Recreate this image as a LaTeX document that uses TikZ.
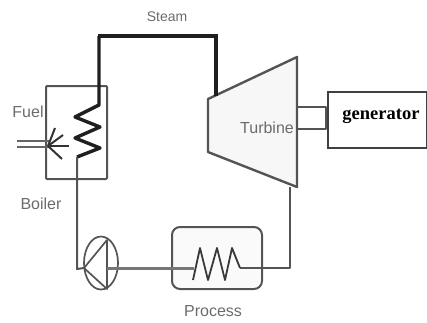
\documentclass[tikz,border=0pt]{standalone}
\usepackage{fontspec}
\setmainfont{Liberation Sans}
\newfontfamily\serifbold[Scale=1]{Liberation Serif}
\usetikzlibrary{shapes.geometric}
\definecolor{lnk}{gray}{0.33}
\definecolor{lbl}{gray}{0.42}
\tikzset{
 x=1pt,y=-1pt,
 thinline/.style={draw=lnk,line width=2pt,line join=round},
 thickline/.style={draw=black!88,line width=4pt,line join=miter},
 coil/.style={draw=black!88,line width=3.4pt,line join=round},
 lab/.style={text=lbl,font=\fontsize{16}{16}\selectfont,inner sep=0pt},
}
\begin{document}
\begin{tikzpicture}
\useasboundingbox (0,0) rectangle (427,322);
% boiler
\node[draw=lnk,line width=2pt,rounded corners=1pt,minimum width=61pt,minimum height=93pt,inner sep=0pt] (boiler) at (76.5,132.5) {};
% turbine
\coordinate (t1) at (208,99); \coordinate (t2) at (297,57);
\coordinate (t3) at (297,187); \coordinate (t4) at (208,152);
\filldraw[fill=black!3,draw=lnk,line width=2.4pt,line join=round] (t1)--(t2)--(t3)--(t4)--cycle;
% steam
\coordinate (c0) at (77,157); \coordinate (c1) at (100,148); \coordinate (c2) at (75,138);
\coordinate (c3) at (100,127); \coordinate (c4) at (75,117); \coordinate (c5) at (99,105);
\coordinate (s1) at (98,36); \coordinate (s2) at (216,36); \coordinate (s3) at (216,96);
\draw[coil] (c0)--(c1)--(c2)--(c3)--(c4)--(c5)--(99,36);
\draw[thickline] (s1)--(s2)--(s3);
% process
\node[draw=lnk,line width=2pt,rounded corners=8pt,fill=black!2,minimum width=90pt,minimum height=62pt,inner sep=0pt] (proc) at (217,258) {};
% pump
\node[ellipse,draw=lnk,line width=1.7pt,minimum width=34pt,minimum height=53pt,inner sep=0pt] (pump) at (101,263) {};
\coordinate (p1) at (84,268); \coordinate (p2) at (107,240); \coordinate (p3) at (107,289);
\draw[draw=lnk,line width=1.7pt,line join=round] (p1)--(p2)--(p3)--cycle;
% return
\coordinate (r0) at (290,187); \coordinate (r1) at (290,268); \coordinate (r2) at (240,268);
\coordinate (z0) at (193,280); \coordinate (z1) at (200,248); \coordinate (z2) at (208,280);
\coordinate (z3) at (217,248); \coordinate (z4) at (225,280); \coordinate (z5) at (232,248);
\coordinate (z6) at (194,268);
\draw[thinline] (r0)--(r1)--(r2);
\draw[draw=black!78,line width=1.8pt,line join=round] (r2)--(z5)--(z4)--(z3)--(z2)--(z1)--(z0);
\draw[draw=lnk!80,line width=3pt] (z6)--(107,268);
\coordinate (l0) at (77,269);
\draw[thinline] (c0)--(l0)--(p1);
% generator
\node[draw=black!75,line width=1.4pt,fill=white,minimum width=99pt,minimum height=56pt,inner sep=0pt] (gen) at (377.5,120) {};
\node[font=\serifbold\bfseries\fontsize{18.5}{18.5}\selectfont,text=black,inner sep=0pt] (gentext) at (381,116) {generator};
\coordinate (g1) at (297,107); \coordinate (g2) at (326,107);
\coordinate (g3) at (297,129); \coordinate (g4) at (326,129);
\draw[thinline] (g1)--(g2)--(g4)--(g3);
% fuel
\coordinate (f1) at (17,141); \coordinate (f2) at (50,141);
\coordinate (f3) at (17,147); \coordinate (f4) at (50,147);
\draw[draw=lnk!90,line width=2.6pt] (f1)--(f2) (f3)--(f4);
\coordinate (b) at (48,146);
\foreach \e in {(55,128),(63,135),(69,146),(62,159)}
  \draw[draw=black!80,line width=2pt] (b)--\e;
% labels
\node[lab,font=\fontsize{14}{14}\selectfont] (steam) at (167,17) {Steam};
\node[lab] (fuel) at (28,112) {Fuel};
\node[lab] (boil) at (41,204) {Boiler};
\node[lab] (turb) at (267,128) {Turbine};
\node[lab] (prl) at (213,311) {Process};
\end{tikzpicture}
\end{document}
